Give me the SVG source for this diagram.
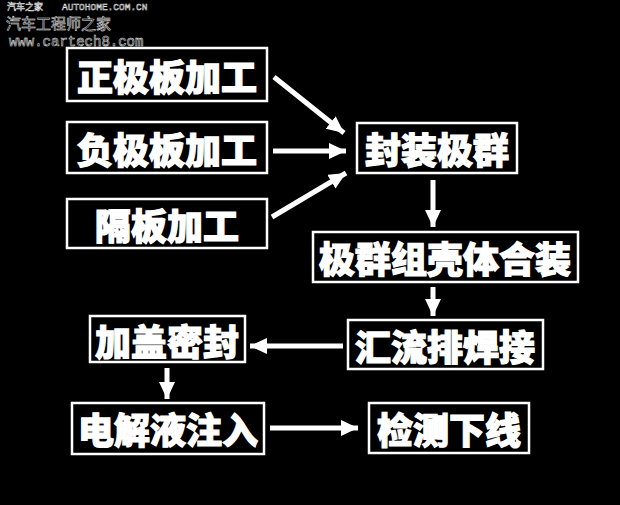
<svg xmlns="http://www.w3.org/2000/svg" width="620" height="505" viewBox="0 0 620 505">
<defs>
<style>
.box{fill:#000;stroke:#fff;stroke-width:2.5}
.lbl{fill:#fff;font-family:"Noto Sans CJK SC","Noto Sans CJK JP",sans-serif;font-weight:900;font-size:36px;text-anchor:middle;dominant-baseline:central;stroke:#fff;stroke-width:1.2}
.con{stroke:#fff;stroke-width:5;fill:none}
.wm{fill:#000;stroke:#e8e8e8;stroke-width:0.5}
</style>
<marker id="ah" markerUnits="userSpaceOnUse" markerWidth="20" markerHeight="18" refX="17" refY="8" orient="auto">
<path d="M0,0 L17,8 L0,16 Z" fill="#fff"/>
</marker>
</defs>
<rect width="620" height="505" fill="#000"/>
<g id="watermark">
<text class="wm" x="7" y="10" font-family="'Noto Sans CJK SC',sans-serif" font-size="9">汽车之家</text>
<text class="wm" x="62" y="10" font-family="'Liberation Mono',monospace" font-size="9.5">AUTOHOME.COM.CN</text>
<text class="wm" x="6" y="29" font-family="'Noto Sans CJK SC',sans-serif" font-size="15">汽车工程师之家</text>
<text class="wm" x="9" y="46" font-family="'Liberation Mono',monospace" font-size="14">www.cartech8.com</text>
</g>
<g id="connectors">
<line class="con" x1="274" y1="77" x2="344" y2="133" marker-end="url(#ah)"/>
<line class="con" x1="273" y1="151" x2="346" y2="151" marker-end="url(#ah)"/>
<line class="con" x1="272" y1="217" x2="346" y2="173" marker-end="url(#ah)"/>
<line class="con" x1="433" y1="180" x2="433" y2="227" marker-end="url(#ah)"/>
<line class="con" x1="433" y1="287" x2="433" y2="316" marker-end="url(#ah)"/>
<line class="con" x1="343" y1="346" x2="250" y2="346" marker-end="url(#ah)"/>
<line class="con" x1="167" y1="368" x2="167" y2="399" marker-end="url(#ah)"/>
<line class="con" x1="270" y1="428" x2="358" y2="428" marker-end="url(#ah)"/>
</g>
<g id="n1"><rect class="box" x="67" y="48" width="200" height="53"/><text class="lbl" x="167" y="75">正极板加工</text></g>
<g id="n2"><rect class="box" x="67" y="122" width="200" height="51"/><text class="lbl" x="167" y="148">负极板加工</text></g>
<g id="n3"><rect class="box" x="67" y="199" width="200" height="49"/><text class="lbl" x="167" y="224">隔板加工</text></g>
<g id="n4"><rect class="box" x="357" y="123" width="160" height="50"/><text class="lbl" x="437" y="148">封装极群</text></g>
<g id="n5"><rect class="box" x="313" y="232" width="265" height="50"/><text class="lbl" x="445" y="257">极群组壳体合装</text></g>
<g id="n6"><rect class="box" x="348" y="320" width="195" height="49"/><text class="lbl" x="445" y="345">汇流排焊接</text></g>
<g id="n7"><rect class="box" x="90" y="316" width="155" height="46"/><text class="lbl" x="167" y="340">加盖密封</text></g>
<g id="n8"><rect class="box" x="72" y="403" width="192" height="51"/><text class="lbl" x="168" y="428">电解液注入</text></g>
<g id="n9"><rect class="box" x="369" y="403" width="160" height="50"/><text class="lbl" x="449" y="428">检测下线</text></g>
</svg>
